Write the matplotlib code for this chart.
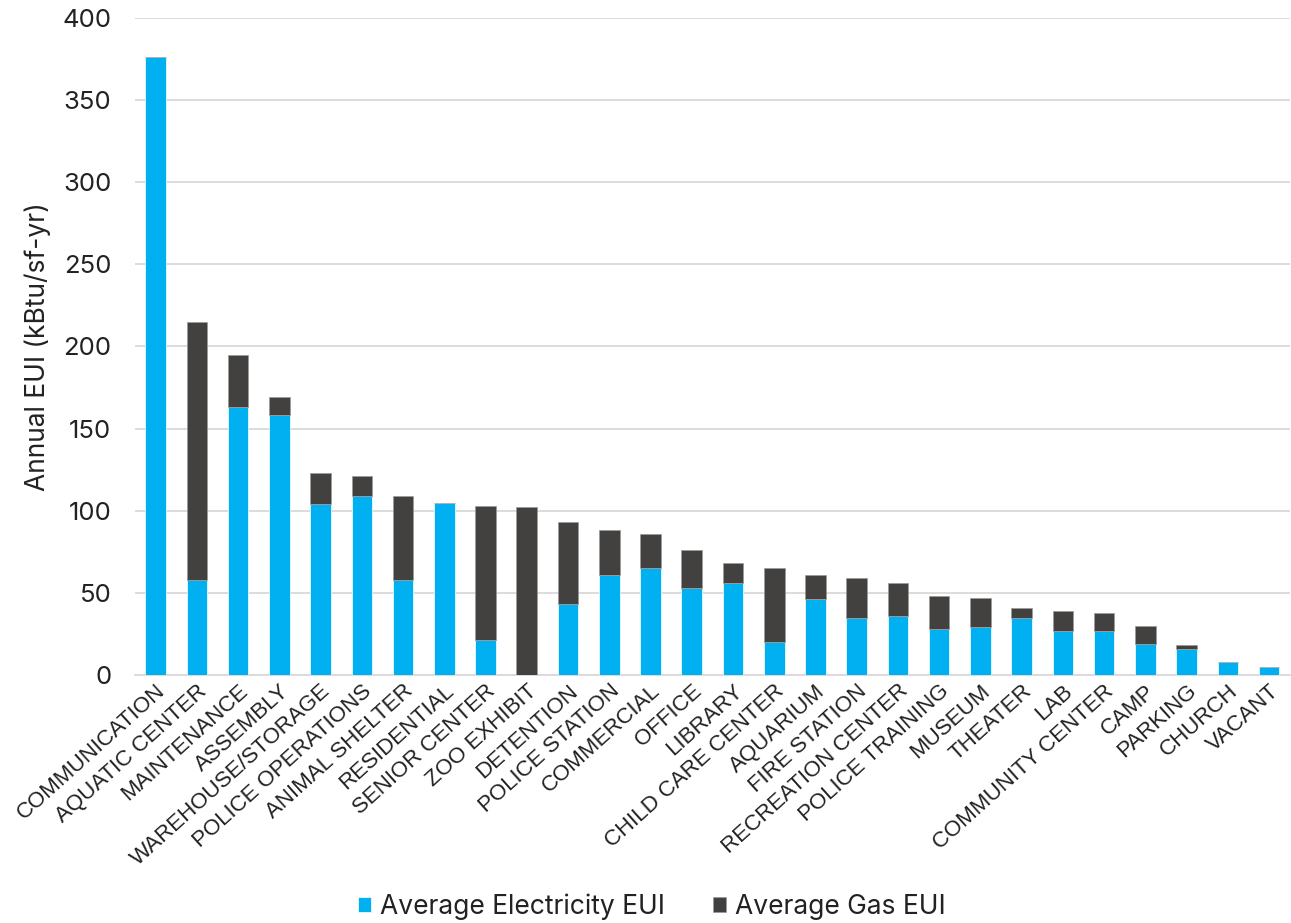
import numpy as np
import matplotlib.pyplot as plt

# building types, sorted by total EUI
categories = ["COMMUNICATION", "AQUATIC CENTER", "MAINTENANCE", "ASSEMBLY",
              "WAREHOUSE/STORAGE", "POLICE OPERATIONS", "ANIMAL SHELTER",
              "RESIDENTIAL", "SENIOR CENTER", "ZOO EXHIBIT", "DETENTION",
              "POLICE STATION", "COMMERCIAL", "OFFICE", "LIBRARY",
              "CHILD CARE CENTER", "AQUARIUM", "FIRE STATION",
              "RECREATION CENTER", "POLICE TRAINING", "MUSEUM", "THEATER",
              "LAB", "COMMUNITY CENTER", "CAMP", "PARKING", "CHURCH", "VACANT"]
elec = [376, 58, 163, 158, 104, 109, 58, 105, 21, 0, 43,
        61, 65, 53, 56, 20, 46, 35, 36, 28, 29, 35,
        27, 27, 19, 16, 8, 5]
total = [376, 215, 195, 169, 123, 121, 109, 105, 103, 102, 93,
         88, 86, 76, 68, 65, 61, 59, 56, 48, 47, 41,
         39, 38, 30, 18, 8, 5]
gas = [t - e for t, e in zip(total, elec)]

plt.rcParams['font.family'] = ['Inter', 'DejaVu Sans']

fig = plt.figure(figsize=(12.91, 9.23), dpi=100)
ax = fig.add_axes([0.1046, 0.2687, 0.8944, 0.7118])

x = np.arange(len(categories))
ax.bar(x, elec, width=0.5, color='#00B0F0', edgecolor='white', linewidth=0.5,
       label='Average Electricity EUI', zorder=3)
ax.bar(x, gas, width=0.5, bottom=elec, color='#43413F', edgecolor='#9a9a9a',
       linewidth=0.5, label='Average Gas EUI', zorder=3)

ax.set_xlim(-0.5, len(categories) - 0.5)
ax.set_ylim(0, 400)
ax.set_yticks(np.arange(0, 401, 50))
ax.yaxis.grid(True, color='#D9D9D9', linewidth=1.3, zorder=0)
for s in ['top', 'right', 'left']:
    ax.spines[s].set_visible(False)
ax.spines['bottom'].set_color('#D9D9D9')
ax.spines['bottom'].set_linewidth(1.3)
ax.tick_params(axis='y', length=0, labelsize=18.5, pad=17, labelcolor='#222222')
ax.tick_params(axis='x', length=0, pad=4)

ax.set_xticks(x)
ax.set_xticklabels(categories, rotation=42, ha='right', rotation_mode='anchor',
                   family=['Liberation Sans'], fontsize=16, color='#222222')
ax.set_ylabel('Annual EUI (kBtu/sf-yr)', fontsize=19, color='#222222', labelpad=8)

ax.legend(loc='center', bbox_to_anchor=(0.4476, -0.353), ncol=2, frameon=False,
          fontsize=19, handlelength=0.5, handleheight=0.5, handletextpad=0.35,
          columnspacing=1.8, labelcolor='#222222')

fig.savefig('out.png', dpi=100)
